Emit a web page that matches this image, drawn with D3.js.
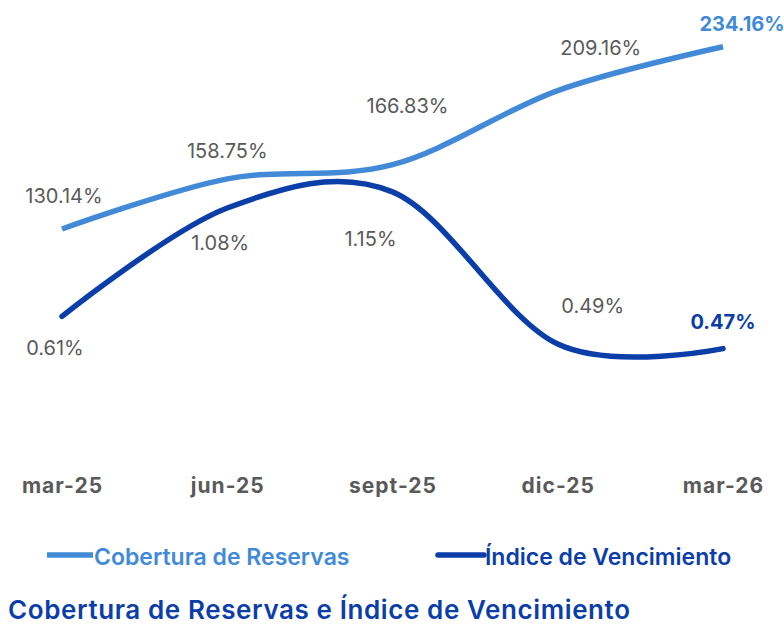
<!DOCTYPE html>
<html>
<head>
<meta charset="utf-8">
<script src="https://cdn.jsdelivr.net/npm/d3@7"></script>
<style>
  body { margin: 0; background: #fff; }
  svg text { font-family: Inter, "Noto Sans", sans-serif; }
</style>
</head>
<body>
<div id="chart"></div>
<script>
// data
const periods = ['mar-25', 'jun-25', 'sept-25', 'dic-25', 'mar-26'];
const cobertura = [130.14, 158.75, 166.83, 209.16, 234.16];
const indice = [0.61, 1.08, 1.15, 0.49, 0.47];
const seriesNames = ['Cobertura de Reservas', 'Índice de Vencimiento'];

// label offsets (dx, dy from the point)
const cobOffsets = [[2, -26], [0, -21], [15, -52], [43, -36], [19, -16]];
const indOffsets = [[-7, 39], [-7, 42], [-22, 54], [35, -31], [0, -20]];

const width = 784, height = 624;
const lightBlue = '#428ad8', darkBlue = '#0b3ea8', gray = '#5a5a5a';

const svg = d3.select('#chart').append('svg')
    .attr('width', width)
    .attr('height', height);

const xScale = d3.scalePoint().domain(periods).range([62, 723]);
const yLeft = d3.scaleLinear().domain([0, 250]).range([457, 19]);
const yRight = d3.scaleLinear().domain([0, 1.9]).range([457, 19]);

const curve = d3.curveCardinal.tension(0);

const cobData = periods.map((p, i) => ({ p, v: cobertura[i] }));
const indData = periods.map((p, i) => ({ p, v: indice[i] }));

svg.append('path')
    .datum(cobData)
    .attr('fill', 'none')
    .attr('stroke', lightBlue)
    .attr('stroke-width', 5.5)
    .attr('d', d3.line().x(d => xScale(d.p)).y(d => yLeft(d.v)).curve(curve));

svg.append('path')
    .datum(indData)
    .attr('fill', 'none')
    .attr('stroke', darkBlue)
    .attr('stroke-width', 5.5)
    .attr('stroke-linecap', 'round')
    .attr('d', d3.line().x(d => xScale(d.p)).y(d => yRight(d.v)).curve(curve));

// data labels
const last = periods.length - 1;

svg.append('g').selectAll('text')
    .data(cobData)
    .enter()
    .append('text')
    .attr('x', (d, i) => xScale(d.p) + cobOffsets[i][0])
    .attr('y', (d, i) => yLeft(d.v) + cobOffsets[i][1])
    .attr('text-anchor', 'middle')
    .attr('font-size', 20)
    .attr('fill', (d, i) => i === last ? lightBlue : gray)
    .attr('font-weight', (d, i) => i === last ? 700 : 400)
    .text(d => d.v.toFixed(2) + '%');

svg.append('g').selectAll('text')
    .data(indData)
    .enter()
    .append('text')
    .attr('x', (d, i) => xScale(d.p) + indOffsets[i][0])
    .attr('y', (d, i) => yRight(d.v) + indOffsets[i][1])
    .attr('text-anchor', 'middle')
    .attr('font-size', 20)
    .attr('fill', (d, i) => i === last ? darkBlue : gray)
    .attr('font-weight', (d, i) => i === last ? 700 : 400)
    .text(d => d.v.toFixed(2) + '%');

// x axis (labels only)
const xAxis = svg.append('g')
    .attr('transform', 'translate(0,' + 457 + ')')
    .call(d3.axisBottom(xScale).tickSize(0).tickPadding(21));
xAxis.select('.domain').remove();
xAxis.selectAll('.tick text')
    .attr('font-family', 'Inter, sans-serif')
    .attr('font-size', 21)
    .attr('font-weight', 700)
    .attr('letter-spacing', 1)
    .attr('fill', gray);

// legend
const legend = svg.append('g').attr('class', 'legend');
const legendX = [47, 438];
const legendColors = [lightBlue, darkBlue];
seriesNames.forEach((name, i) => {
    legend.append('line')
        .attr('x1', legendX[i]).attr('x2', legendX[i] + 46)
        .attr('y1', 555).attr('y2', 555)
        .attr('stroke', legendColors[i])
        .attr('stroke-width', 5.5)
        .attr('stroke-linecap', i === 1 ? 'round' : 'butt');
    legend.append('text')
        .attr('x', legendX[i] + 47)
        .attr('y', 565)
        .attr('font-size', 23)
        .attr('font-weight', 600)
        .attr('fill', legendColors[i])
        .text(name);
});

// title
svg.append('text')
    .attr('x', 8)
    .attr('y', 619)
    .attr('font-size', 26)
    .attr('font-weight', 600)
    .attr('letter-spacing', 0.6)
    .attr('fill', darkBlue)
    .text('Cobertura de Reservas e Índice de Vencimiento');
</script>
</body>
</html>
